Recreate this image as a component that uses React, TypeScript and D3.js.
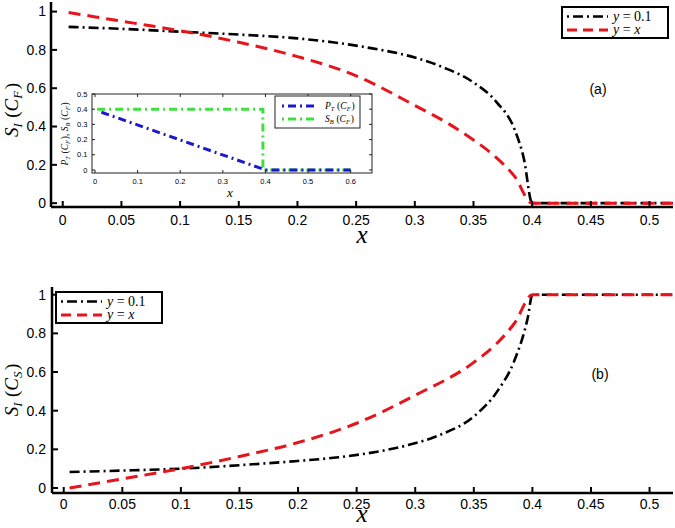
import React from "react";
import * as d3 from "d3";

// ---------- data ----------
const xTicks = [0, 0.05, 0.1, 0.15, 0.2, 0.25, 0.3, 0.35, 0.4, 0.45, 0.5];
const xTickLabels = ["0", "0.05", "0.1", "0.15", "0.2", "0.25", "0.3", "0.35", "0.4", "0.45", "0.5"];
const yTicks = [0, 0.2, 0.4, 0.6, 0.8, 1];
const yTickLabels = ["0", "0.2", "0.4", "0.6", "0.8", "1"];

// panel (a): S_I(C_F)
const aBlackX = [0.005, 0.05, 0.1, 0.15, 0.2, 0.23, 0.26, 0.3, 0.325, 0.35, 0.37, 0.385, 0.393, 0.4, 0.45, 0.52];
const aBlackY = [0.92, 0.91, 0.895, 0.88, 0.86, 0.84, 0.812, 0.76, 0.707, 0.63, 0.525, 0.385, 0.23, 0.0, 0.0, 0.0];
const aRedX = [0.005, 0.05, 0.1, 0.15, 0.2, 0.25, 0.3, 0.33, 0.35, 0.37, 0.385, 0.4, 0.45, 0.52];
const aRedY = [0.995, 0.95, 0.9, 0.84, 0.765, 0.665, 0.51, 0.41, 0.33, 0.235, 0.14, 0.0, 0.0, 0.0];

// panel (b): S_I(C_S)
const bBlackX = [0.005, 0.05, 0.1, 0.15, 0.2, 0.23, 0.26, 0.294, 0.32, 0.35, 0.37, 0.384, 0.396, 0.4, 0.45, 0.52];
const bBlackY = [0.083, 0.09, 0.1, 0.118, 0.14, 0.156, 0.18, 0.222, 0.272, 0.37, 0.5, 0.65, 0.88, 1.0, 1.0, 1.0];
const bRedX = [0.005, 0.05, 0.1, 0.15, 0.2, 0.25, 0.3, 0.35, 0.37, 0.385, 0.4, 0.45, 0.52];
const bRedY = [0.0, 0.047, 0.1, 0.163, 0.235, 0.335, 0.48, 0.65, 0.75, 0.855, 1.0, 1.0, 1.0];

// inset
const insetXTicks = [0, 0.1, 0.2, 0.3, 0.4, 0.5, 0.6];
const insetXTickLabels = ["0", "0.1", "0.2", "0.3", "0.4", "0.5", "0.6"];
const insetYTicks = [0, 0.1, 0.2, 0.3, 0.4, 0.5];
const insetYTickLabels = ["0", "0.1", "0.2", "0.3", "0.4", "0.5"];
const ptX = [0.015, 0.4, 0.6];
const ptY = [0.38, 0.0, 0.0];
const sbX = [0.005, 0.394, 0.394, 0.6];
const sbY = [0.4, 0.4, 0.0, 0.0];

const SANS = "'Liberation Sans', Arial, Helvetica, sans-serif";
const SERIF = "'Liberation Serif', 'Times New Roman', serif";
const BLACK_DASH = "10,4,2,4";
const RED_DASH = "12,7";
const RED = "#e8141c";
const BLUE = "#1a1acc";
const GREEN = "#3ee03e";

type Pt = [number, number];
const zip = (xs: number[], ys: number[]): Pt[] => xs.map((x, i) => [x, ys[i]]);

function MathLabel({ parts, size }: { parts: [string, string | null][]; size: number }) {
  return (
    <>
      {parts.map(([m, s], i) => (
        <React.Fragment key={i}>
          <tspan fontStyle={m.match(/[A-Za-z]/) ? "italic" : "normal"}>{m}</tspan>
          {s !== null && (
            <tspan fontStyle="italic" fontSize={size * 0.68} dy={size * 0.2}>
              {s}
            </tspan>
          )}
          {s !== null && <tspan dy={-size * 0.2}>{"\u200a"}</tspan>}
        </React.Fragment>
      ))}
    </>
  );
}

function Panel({
  y0, y1, xLeft, blackX, blackY, redX, redY, yLabelSub, yLabelCx, yLabelCy, tag, tagX, tagY,
  legendX, legendY, tickLabelY, xLabelY,
}: any) {
  const x = d3.scaleLinear().domain([-0.01, 0.52]).range([xLeft, 673]);
  const y = d3.scaleLinear().domain(y0).range(y1);
  const line = d3.line<Pt>().x((d) => x(d[0])).y((d) => y(d[1])).curve(d3.curveMonotoneX);
  const axisY = y1[0];
  return (
    <g>
      <path d={line(zip(blackX, blackY)) || ""} fill="none" stroke="#000" strokeWidth={2.6} strokeDasharray={BLACK_DASH} />
      <path d={line(zip(redX, redY)) || ""} fill="none" stroke={RED} strokeWidth={3} strokeDasharray={RED_DASH} />
      <line x1={xLeft} x2={673} y1={axisY} y2={axisY} stroke="#000" strokeWidth={2.5} />
      <line x1={xLeft} x2={xLeft} y1={y1[1]} y2={axisY} stroke="#000" strokeWidth={2.5} />
      {xTicks.map((t, i) => (
        <g key={i}>
          <line x1={x(t)} x2={x(t)} y1={axisY} y2={axisY - 6} stroke="#000" strokeWidth={2} />
          <text x={x(t)} y={tickLabelY} textAnchor="middle" fontFamily={SANS} fontSize={14}>
            {xTickLabels[i]}
          </text>
        </g>
      ))}
      {yTicks.map((t, i) => (
        <g key={i}>
          <line x1={xLeft} x2={xLeft + 6} y1={y(t)} y2={y(t)} stroke="#000" strokeWidth={2} />
          <text x={46} y={y(t)} dy="0.35em" textAnchor="end" fontFamily={SANS} fontSize={14}>
            {yTickLabels[i]}
          </text>
        </g>
      ))}
      <text x={362} y={xLabelY} textAnchor="middle" fontFamily={SERIF} fontStyle="italic" fontSize={25}>
        x
      </text>
      <text
        transform={`translate(${yLabelCx},${yLabelCy}) rotate(-90)`}
        textAnchor="middle"
        fontFamily={SERIF}
        fontSize={19}
      >
        <MathLabel parts={[["S", "I"], ["\u2009(", null], ["C", yLabelSub], [")", null]]} size={19} />
      </text>
      <text x={tagX} y={tagY} dy="0.35em" textAnchor="middle" fontFamily={SANS} fontSize={14}>
        {tag}
      </text>
      <g transform={`translate(${legendX},${legendY})`}>
        <rect x={0} y={0} width={106} height={31} fill="#fff" stroke="#000" strokeWidth={2} />
        <line x1={5} x2={46} y1={9.5} y2={9.5} stroke="#000" strokeWidth={2.6} strokeDasharray="2,4,10,4" />
        <line x1={5} x2={46} y1={23} y2={23} stroke={RED} strokeWidth={3} strokeDasharray="10,6" />
        <text x={51} y={13.5} fontFamily={SERIF} fontSize={14}>
          <tspan fontStyle="italic">y</tspan>
          <tspan> = 0.1</tspan>
        </text>
        <text x={51} y={27} fontFamily={SERIF} fontSize={14}>
          <tspan fontStyle="italic">y</tspan>
          <tspan> = </tspan>
          <tspan fontStyle="italic">x</tspan>
        </text>
      </g>
    </g>
  );
}

function Inset() {
  const L = 92, R = 372, T = 94, B = 173;
  const x = d3.scaleLinear().domain([-0.007, 0.65]).range([L, R]);
  const y = d3.scaleLinear().domain([-0.02, 0.5]).range([B, T]);
  const line = d3.line<Pt>().x((d) => x(d[0])).y((d) => y(d[1]));
  return (
    <g>
      <rect x={L} y={T} width={R - L} height={B - T} fill="#fff" stroke="none" />
      <path d={line(zip(sbX, sbY)) || ""} fill="none" stroke={GREEN} strokeWidth={3} strokeDasharray="8,4,2,4" />
      <path d={line(zip(ptX, ptY)) || ""} fill="none" stroke={BLUE} strokeWidth={3} strokeDasharray="8,4,2,4" />
      <rect x={L} y={T} width={R - L} height={B - T} fill="none" stroke="#222" strokeWidth={1} />
      {insetXTicks.map((t, i) => (
        <g key={i}>
          <line x1={x(t)} x2={x(t)} y1={B} y2={B - 3} stroke="#222" strokeWidth={1} />
          <line x1={x(t)} x2={x(t)} y1={T} y2={T + 3} stroke="#222" strokeWidth={1} />
          <text x={x(t)} y={184} textAnchor="middle" fontFamily={SANS} fontSize={7.5}>
            {insetXTickLabels[i]}
          </text>
        </g>
      ))}
      {insetYTicks.map((t, i) => (
        <g key={i}>
          <line x1={L} x2={L + 3} y1={y(t)} y2={y(t)} stroke="#222" strokeWidth={1} />
          <line x1={R} x2={R - 3} y1={y(t)} y2={y(t)} stroke="#222" strokeWidth={1} />
          <text x={87.5} y={y(t)} dy="0.35em" textAnchor="end" fontFamily={SANS} fontSize={7.5}>
            {insetYTickLabels[i]}
          </text>
        </g>
      ))}
      <text x={230} y={197} textAnchor="middle" fontFamily={SERIF} fontStyle="italic" fontSize={13}>
        x
      </text>
      <text transform="translate(68,134) rotate(-90)" textAnchor="middle" fontFamily={SERIF} fontSize={9.5}>
        <MathLabel
          parts={[["P", "T"], ["\u2009(", null], ["C", "F"], ["), ", null], ["S", "B"], ["\u2009(", null], ["C", "F"], [")", null]]}
          size={9.5}
        />
      </text>
      <g transform="translate(275,96)">
        <rect x={0} y={0} width={85} height={32} fill="#fff" stroke="#222" strokeWidth={1} />
        <line x1={7} x2={42} y1={10} y2={10} stroke={BLUE} strokeWidth={3} strokeDasharray="2,4,8,4" />
        <line x1={7} x2={42} y1={23} y2={23} stroke={GREEN} strokeWidth={3} strokeDasharray="2,4,8,4" />
        <text x={50} y={13} fontFamily={SERIF} fontSize={9.5}>
          <MathLabel parts={[["P", "T"], ["\u2009(", null], ["C", "F"], [")", null]]} size={9.5} />
        </text>
        <text x={50} y={26} fontFamily={SERIF} fontSize={9.5}>
          <MathLabel parts={[["S", "B"], ["\u2009(", null], ["C", "F"], [")", null]]} size={9.5} />
        </text>
      </g>
    </g>
  );
}

export default function App() {
  return (
    <svg width={675} height={528} style={{ position: "absolute", left: 0, top: 0, background: "#fff" }}>
      <rect width={675} height={528} fill="#fff" />
      <Panel
        y0={[-0.02, 1.05]} y1={[207, 2]} xLeft={51}
        blackX={aBlackX} blackY={aBlackY} redX={aRedX} redY={aRedY}
        yLabelSub="F" yLabelCx={18} yLabelCy={110}
        tag="(a)" tagX={598} tagY={89}
        legendX={562} legendY={7} tickLabelY={225} xLabelY={243}
      />
      <Inset />
      <Panel
        y0={[-0.026, 1.04]} y1={[493, 287]} xLeft={52}
        blackX={bBlackX} blackY={bBlackY} redX={bRedX} redY={bRedY}
        yLabelSub="S" yLabelCx={18} yLabelCy={390}
        tag="(b)" tagX={600} tagY={374}
        legendX={56} legendY={292} tickLabelY={509} xLabelY={522}
      />
    </svg>
  );
}
